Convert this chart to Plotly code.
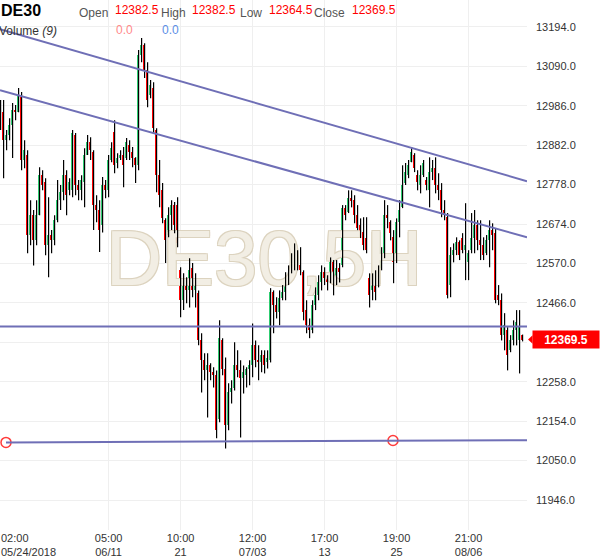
import plotly.graph_objects as go

# ---------------- data (DE30, 5H candles) ----------------
opens = [12953, 12969, 12895, 12909, 12935, 12975, 12969, 13009, 12843, 12856,
         12645, 12697, 12631, 12697, 12803, 12784, 12618, 12645, 12631, 12684,
         12737, 12758, 12803, 12763, 12763, 12909, 12777, 12763, 12784, 12856,
         12890, 12864, 12724, 12711, 12671, 12777, 12763, 12843, 12917, 12835,
         12848, 12856, 12848, 12882, 12864, 12848, 12829, 13120, 13146, 13080,
         13014, 13033, 12922, 12803, 12763, 12684, 12645, 12697, 12724, 12724,
         12552, 12473, 12513, 12499, 12557, 12499, 12491, 12367, 12315, 12288,
         12301, 12283, 12275, 12161, 12367, 12293, 12143, 12230, 12241, 12301,
         12288, 12267, 12275, 12293, 12301, 12354, 12315, 12309, 12328, 12309,
         12315, 12494, 12460, 12441, 12478, 12494, 12526, 12547, 12573, 12600,
         12565, 12547, 12447, 12407, 12394, 12460, 12486, 12520, 12547, 12531,
         12520, 12573, 12520, 12557, 12565, 12716, 12705, 12742, 12737, 12697,
         12671, 12652, 12637, 12531, 12499, 12513, 12513, 12557, 12592, 12697,
         12679, 12639, 12579, 12679, 12718, 12782, 12803, 12837, 12856, 12803,
         12777, 12803, 12790, 12763, 12811, 12821, 12777, 12763, 12711, 12692,
         12513, 12592, 12605, 12626, 12637, 12605, 12573, 12605, 12637, 12671,
         12631, 12618, 12597, 12631, 12658, 12650, 12486, 12473, 12381, 12394,
         12341, 12367, 12394, 12367, 12382.5]
highs = [13001, 13001, 12922, 12953, 12993, 12988, 13033, 13022, 12895, 12869,
         12737, 12711, 12737, 12824, 12816, 12795, 12745, 12658, 12697, 12790,
         12777, 12843, 12816, 12795, 12922, 12914, 12790, 12803, 12874, 12909,
         12903, 12869, 12750, 12737, 12798, 12790, 12856, 12890, 12948, 12861,
         12869, 12877, 12901, 12895, 12877, 12850, 13133, 13165, 13151, 13101,
         13054, 13048, 12927, 12843, 12782, 12689, 12718, 12737, 12732, 12745,
         12560, 12544, 12534, 12584, 12571, 12544, 12499, 12386, 12333, 12333,
         12307, 12296, 12288, 12420, 12373, 12322, 12254, 12262, 12362, 12341,
         12315, 12301, 12296, 12315, 12412, 12367, 12354, 12341, 12341, 12341,
         12505, 12499, 12481, 12499, 12513, 12547, 12565, 12597, 12623, 12605,
         12613, 12552, 12473, 12425, 12473, 12507, 12539, 12565, 12560, 12539,
         12586, 12579, 12579, 12571, 12724, 12724, 12763, 12763, 12750, 12724,
         12689, 12692, 12692, 12544, 12544, 12552, 12565, 12613, 12737, 12724,
         12684, 12658, 12689, 12737, 12829, 12835, 12843, 12877, 12861, 12816,
         12829, 12843, 12798, 12850, 12843, 12850, 12808, 12782, 12737, 12703,
         12613, 12623, 12639, 12631, 12650, 12729, 12605, 12703, 12711, 12684,
         12684, 12639, 12645, 12684, 12676, 12663, 12513, 12491, 12439, 12402,
         12381, 12420, 12447, 12447, 12382.5]
lows = [12922, 12795, 12869, 12895, 12848, 12948, 12969, 12816, 12821, 12597,
        12618, 12565, 12618, 12697, 12763, 12592, 12534, 12597, 12618, 12679,
        12711, 12737, 12697, 12750, 12745, 12750, 12737, 12737, 12718, 12856,
        12843, 12658, 12679, 12600, 12652, 12742, 12745, 12837, 12808, 12821,
        12843, 12771, 12843, 12843, 12824, 12782, 12816, 13101, 13059, 12982,
        13006, 12914, 12758, 12718, 12676, 12571, 12639, 12658, 12650, 12613,
        12428, 12447, 12465, 12454, 12481, 12454, 12354, 12230, 12262, 12164,
        12262, 12243, 12109, 12151, 12275, 12082, 12130, 12201, 12235, 12270,
        12111, 12227, 12243, 12249, 12270, 12296, 12262, 12283, 12280, 12293,
        12309, 12386, 12425, 12407, 12473, 12473, 12513, 12544, 12552, 12552,
        12539, 12420, 12386, 12373, 12386, 12447, 12473, 12499, 12513, 12499,
        12518, 12486, 12513, 12520, 12560, 12684, 12703, 12718, 12676, 12658,
        12637, 12605, 12597, 12454, 12473, 12473, 12507, 12552, 12584, 12663,
        12631, 12518, 12571, 12639, 12716, 12777, 12795, 12837, 12811, 12763,
        12755, 12798, 12763, 12718, 12790, 12755, 12737, 12692, 12684, 12478,
        12481, 12573, 12592, 12579, 12597, 12526, 12526, 12597, 12597, 12605,
        12579, 12579, 12592, 12560, 12605, 12465, 12460, 12367, 12341, 12288,
        12336, 12354, 12354, 12280, 12364.5]
closes = [12975, 12895, 12909, 12935, 12975, 12969, 13014, 12843, 12869, 12645,
          12697, 12631, 12697, 12803, 12777, 12618, 12645, 12631, 12684, 12737,
          12758, 12803, 12750, 12784, 12914, 12777, 12763, 12790, 12856, 12890,
          12869, 12724, 12711, 12658, 12777, 12763, 12843, 12874, 12829, 12848,
          12856, 12829, 12890, 12864, 12848, 12829, 13120, 13146, 13080, 13001,
          13041, 12927, 12803, 12750, 12689, 12631, 12697, 12724, 12671, 12623,
          12473, 12513, 12499, 12552, 12499, 12526, 12367, 12315, 12288, 12301,
          12283, 12275, 12130, 12373, 12293, 12143, 12230, 12241, 12301, 12288,
          12267, 12283, 12293, 12301, 12354, 12315, 12309, 12328, 12301, 12320,
          12494, 12460, 12441, 12478, 12494, 12526, 12539, 12573, 12600, 12565,
          12552, 12441, 12407, 12394, 12460, 12486, 12520, 12547, 12531, 12520,
          12573, 12513, 12557, 12547, 12716, 12697, 12742, 12737, 12697, 12663,
          12652, 12618, 12605, 12486, 12513, 12494, 12557, 12605, 12697, 12689,
          12650, 12573, 12679, 12711, 12777, 12811, 12829, 12864, 12821, 12784,
          12803, 12835, 12777, 12811, 12821, 12777, 12763, 12711, 12697, 12486,
          12592, 12605, 12626, 12592, 12605, 12618, 12597, 12637, 12671, 12631,
          12618, 12592, 12631, 12658, 12645, 12473, 12473, 12381, 12407, 12328,
          12367, 12394, 12415, 12402, 12369.5]

x_tick_idx = [36, 60, 84, 108, 132, 156]
x_tick_text = ["05:00<br>06/11", "10:00<br>21", "12:00<br>07/03",
               "17:00<br>13", "19:00<br>25", "21:00<br>08/06"]
first_tick_text = "02:00<br>05/24/2018"
y_ticks = [11946.0, 12050.0, 12154.0, 12258.0, 12362.0, 12466.0, 12570.0,
           12674.0, 12778.0, 12882.0, 12986.0, 13090.0, 13194.0]

# drawn trend lines: (index, price) pairs
trend_upper = [(-0.2, 13188), (175.47, 12787)]
trend_middle = [(-0.2, 13027), (175.47, 12639)]
level_line = 12404
trend_lower = [(1.8, 12098), (175.47, 12104)]
lower_anchor_x = [1.8, 130.8]
lower_anchor_y = [12098, 12103]

symbol = "DE30"
hdr_open, hdr_high, hdr_low, hdr_close = 12382.5, 12382.5, 12364.5, 12369.5
vol_label, vol_a, vol_b = "9", "0.0", "0.0"
last_price = closes[-1]

UP = "#2ecc71"
DOWN = "#ff0000"
LINE = "#6f6fb6"
X0, X1 = -0.2, 175.47
Y0, Y1 = 11867, 13265

fig = go.Figure()

# watermark (behind everything)
fig.add_trace(go.Scatter(
    x=[87.8], y=[12565], mode="text", text=["DE30,5H"],
    textfont=dict(family="Arial", size=78, color="#f2eee4",
                  shadow="1px 1px 0 #dcd3bf, -1px -1px 0 #dcd3bf, 1px -1px 0 #dcd3bf, -1px 1px 0 #dcd3bf"),
    hoverinfo="skip", showlegend=False))

# wicks
n = len(closes)
wx, wy = [], []
for i in range(n):
    wx += [i, i, None]
    wy += [lows[i], highs[i], None]
fig.add_trace(go.Scatter(x=wx, y=wy, mode="lines", line=dict(color="#000000", width=1.2),
                         hoverinfo="skip", showlegend=False))

# bodies
for want_up, col in [(True, UP), (False, DOWN)]:
    idx = [i for i in range(n) if (closes[i] >= opens[i]) == want_up]
    fig.add_trace(go.Bar(
        x=idx,
        y=[max(abs(closes[i] - opens[i]), 1.5) for i in idx],
        base=[min(closes[i], opens[i]) for i in idx],
        width=0.5, marker=dict(color=col, line=dict(width=0)),
        hoverinfo="skip", showlegend=False))

# trend lines
for (a, b) in [trend_upper, trend_middle, trend_lower]:
    fig.add_shape(type="line", xref="x", yref="y", x0=a[0], y0=a[1], x1=b[0], y1=b[1],
                  line=dict(color=LINE, width=2), layer="above")
fig.add_shape(type="line", xref="paper", yref="y", x0=0, x1=1, y0=level_line, y1=level_line,
              line=dict(color=LINE, width=2), layer="above")
fig.add_trace(go.Scatter(x=lower_anchor_x, y=lower_anchor_y, mode="markers",
                         marker=dict(symbol="circle-open", size=10, color="#ff3b3b",
                                     line=dict(width=1.5, color="#ff3b3b")),
                         hoverinfo="skip", showlegend=False))

# last price marker on axis
fig.add_shape(type="path", xref="paper", yref="y",
              path=f"M 1.002,{last_price} L 1.0105,{last_price + 11} L 1.0105,{last_price - 11} Z",
              fillcolor=DOWN, line=dict(width=0))
fig.add_annotation(xref="paper", yref="y", x=1.0095, y=last_price, xanchor="left", yanchor="middle",
                   text=f"<b>{last_price:.1f}</b>", showarrow=False, bgcolor=DOWN,
                   font=dict(color="white", size=12, family="Arial"), width=62, height=13, borderpad=2)

PW, PH = 527.0, 530.0

def hdr(text, px, py, color, size=12):
    fig.add_annotation(xref="paper", yref="paper", x=px / PW, y=1 - py / PH,
                       xanchor="left", yanchor="middle", text=text, showarrow=False,
                       font=dict(family="Arial", size=size, color=color), borderpad=0)

hdr(f"<b>{symbol}</b>", 0, 11, "#000000", 16)
hdr("Open", 78, 13, "#555555")
hdr(f"{hdr_open:.1f}", 114, 10, "#ff0000")
hdr("High", 160, 13, "#555555")
hdr(f"{hdr_high:.1f}", 191, 10, "#ff0000")
hdr("Low", 239, 13, "#555555")
hdr(f"{hdr_low:.1f}", 268, 10, "#ff0000")
hdr("Close", 313, 13, "#555555")
hdr(f"{hdr_close:.1f}", 351, 10, "#ff0000")
hdr(f"Volume <i>({vol_label})</i>", -2, 31, "#333333")
hdr(vol_a, 115, 30, "#ff8a8a")
hdr(vol_b, 161, 30, "#5b8ee6")

# first (left-clamped) time label
fig.add_annotation(xref="paper", yref="paper", x=0, y=0, xanchor="left", yanchor="top",
                   yshift=-1, text=first_tick_text, showarrow=False, align="left",
                   font=dict(family="Arial", size=11, color="#333333"), borderpad=0)

# the 12362.0 label sits under the last-price box, as in the source
y_tick_text = ["" if abs(v - last_price) < 20 else f"{v:.1f}" for v in y_ticks]

fig.update_layout(
    width=600, height=558, margin=dict(l=0, r=73, t=0, b=28),
    plot_bgcolor="white", paper_bgcolor="white", showlegend=False,
    barmode="overlay", bargap=0,
    font=dict(family="Arial", size=11, color="#333333"),
)
fig.update_xaxes(range=[X0, X1], tickvals=x_tick_idx, ticktext=x_tick_text,
                 showgrid=True, gridcolor="#efefef", gridwidth=1, zeroline=False,
                 showline=False, ticks="", fixedrange=True,
                 tickfont=dict(family="Arial", size=11, color="#333333"))
fig.update_yaxes(range=[Y0, Y1], side="right", tickvals=y_ticks,
                 ticktext=y_tick_text,
                 showgrid=True, gridcolor="#efefef", gridwidth=1, zeroline=False,
                 showline=False, ticks="", ticklabelstandoff=8, fixedrange=True,
                 tickfont=dict(family="Arial", size=11, color="#333333"))

fig.write_html("out.html", config={"displayModeBar": False},
               post_script="document.body.style.margin='0';document.body.style.overflow='hidden';")
